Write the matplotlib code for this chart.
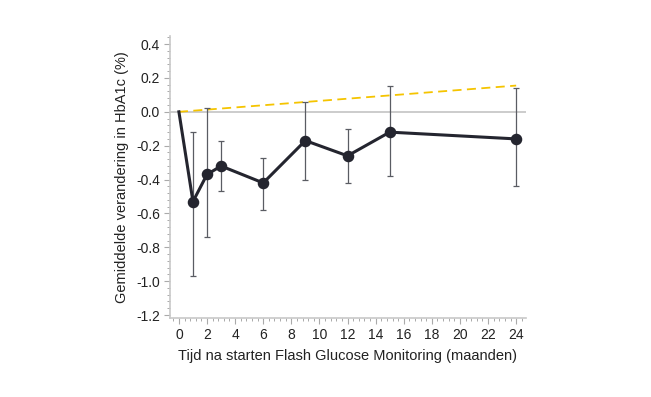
import matplotlib
matplotlib.use("Agg")
import matplotlib.pyplot as plt
from matplotlib.ticker import AutoMinorLocator, MultipleLocator

# ── Data ───────────────────────────────────────────────────────────────
months = [0, 1, 2, 3, 6, 9, 12, 15, 24]
hba1c_change = [0.0, -0.53, -0.37, -0.32, -0.42, -0.17, -0.26, -0.12, -0.16]
err_upper = [None, -0.12, 0.02, -0.17, -0.27, 0.06, -0.10, 0.15, 0.14]
err_lower = [None, -0.97, -0.74, -0.47, -0.58, -0.40, -0.42, -0.38, -0.44]

trend_months = [0, 24]
trend_values = [0.0, 0.155]

LINE_COLOR = "#24252f"
ERR_COLOR = "#5a5c63"
TREND_COLOR = "#f5c400"
AXIS_COLOR = "#c8c8c8"

plt.rcParams["font.family"] = ["Liberation Sans", "DejaVu Sans"]

fig = plt.figure(figsize=(6.51, 3.97), dpi=100)
ax = fig.add_axes([0.261, 0.198, 0.547, 0.711])

# zero reference line
ax.axhline(0, color=AXIS_COLOR, lw=1.3, zorder=1)

# dashed trend line
ax.plot(trend_months, trend_values, color=TREND_COLOR, ls=(0, (5, 3)), lw=1.3, zorder=2)

# error bars (skip baseline)
xe = months[1:]
ye = hba1c_change[1:]
lo = [y - l for y, l in zip(ye, err_lower[1:])]
hi = [u - y for y, u in zip(ye, err_upper[1:])]
ax.errorbar(xe, ye, yerr=[lo, hi], fmt="none", ecolor=ERR_COLOR, elinewidth=0.9,
            capsize=2.5, capthick=0.9, zorder=3)

# main line + markers
ax.plot(months, hba1c_change, color=LINE_COLOR, lw=2.2, zorder=4)
ax.plot(months[1:], hba1c_change[1:], "o", color=LINE_COLOR, ms=7.3, zorder=5)

ax.set_xlim(-0.64, 24.7)
ax.set_ylim(-1.22, 0.447)
ax.xaxis.set_major_locator(MultipleLocator(2))
ax.yaxis.set_major_locator(MultipleLocator(0.2))
ax.xaxis.set_minor_locator(AutoMinorLocator(5))
ax.yaxis.set_minor_locator(AutoMinorLocator(5))
ax.yaxis.set_major_formatter(matplotlib.ticker.FuncFormatter(lambda v, p: f"{v:.1f}"))

for s in ["top", "right"]:
    ax.spines[s].set_visible(False)
for s in ["left", "bottom"]:
    ax.spines[s].set_color(AXIS_COLOR)
    ax.spines[s].set_linewidth(1.2)

ax.tick_params(which="major", direction="out", length=4, width=0.8, color="#aaaaaa",
               labelsize=10, labelcolor="#222222", pad=3)
ax.tick_params(which="minor", direction="out", length=2.5, width=0.7, color="#aaaaaa")

ax.set_xlabel("Tijd na starten Flash Glucose Monitoring (maanden)", fontsize=10.5,
              color="#222222", labelpad=5)
ax.set_ylabel("Gemiddelde verandering in HbA1c (%)", fontsize=10.5,
              color="#222222", labelpad=5)

fig.savefig("out.png", dpi=100)
